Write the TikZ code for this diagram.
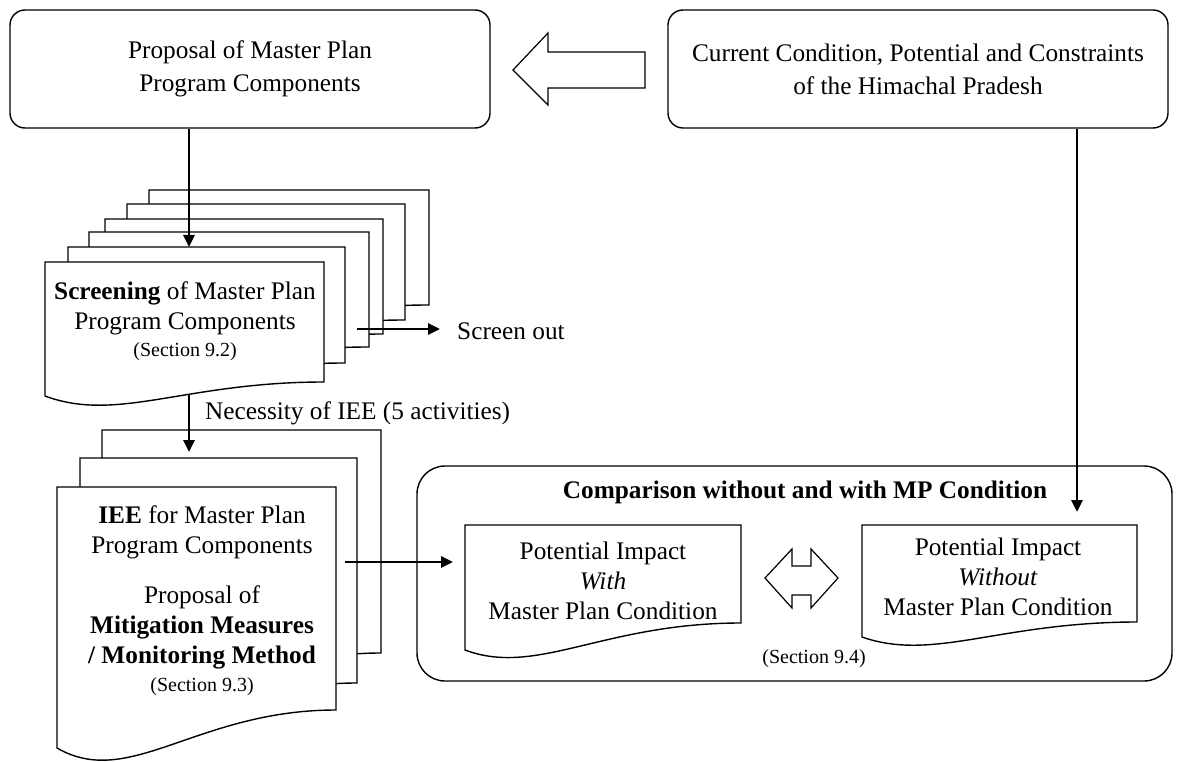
\documentclass[tikz,border=0pt]{standalone}
\usepackage{fontspec}
\setmainfont{Liberation Serif}
\usetikzlibrary{arrows.meta}

\tikzset{
  box/.style={draw, line width=1.4pt, rounded corners=15pt, align=center,
              font=\fontsize{25.3}{33}\selectfont, inner sep=0pt},
  page/.style={draw, fill=white, line width=1.4pt},
  blockarrow/.style={draw, fill=white, line width=1.2pt},
  flow/.style={line width=2.8pt, -{Triangle[length=12pt,width=11pt]}},
  txt/.style={align=center, font=\fontsize{25.3}{30}\selectfont, inner sep=0pt},
  small/.style={font=\fontsize{20}{24}\selectfont, inner sep=0pt},
}

% document page: left, top, right, bottom-right, bottom-left, wave depth
\newcommand\docpage[6]{%
  \draw[page] (#1,#2) -- (#3,#2) -- (#3,#4)
    .. controls ({#1+0.5*(#3-#1)},#4) and ({#1+0.26*(#3-#1)},{#5+#6}) .. (#1,#5) -- cycle;}

\begin{document}
\begin{tikzpicture}[x=1pt,y=-1pt]
\useasboundingbox (0,0) rectangle (1178,762);

% top row
\node[box, minimum width=480pt, minimum height=118pt] (plan) at (250,69)
  {Proposal of Master Plan\\Program Components};
\node[box, minimum width=500pt, minimum height=118pt] (cond) at (918,69)
  {Current Condition, Potential and Constraints\\of the Himachal Pradesh};
\draw[blockarrow] (513,70) -- (548,33) -- (548,52) -- (645,52) -- (645,88)
  -- (548,88) -- (548,105) -- cycle;

% screening stack
\docpage{149}{190}{429}{305}{319}{27}
\docpage{127}{204}{405}{320}{334}{27}
\docpage{105}{219}{383}{334}{348}{27}
\docpage{89}{232}{369}{347}{361}{27}
\docpage{68}{247}{345}{363}{377}{27}
\docpage{45}{262}{324}{382}{396}{27}
\node[txt] (scr) at (185,308) {\textbf{Screening} of Master Plan\\Program Components};
\node[small] (scrsec) at (185,352) {(Section 9.2)};

% IEE stack
\docpage{102}{430}{381}{653}{691}{42}
\docpage{80}{458}{357}{683}{721}{42}
\docpage{57}{487}{336}{710}{748}{42}
\node[txt] (iee) at (202,532) {\textbf{IEE} for Master Plan\\Program Components};
\node[txt] (mit) at (202,627) {Proposal of\\\textbf{Mitigation Measures}\\\textbf{/ Monitoring Method}};
\node[small] (ieesec) at (202,687) {(Section 9.3)};

% comparison panel
\node[draw, line width=1.4pt, rounded corners=28pt, minimum width=755pt,
      minimum height=215pt, inner sep=0pt] (cmp) at (794.5,573.5) {};
\node[txt, font=\fontsize{25.3}{30}\selectfont\bfseries] (cmptitle) at (805,492)
  {Comparison without and with MP Condition};
\docpage{465}{525}{741}{623}{650}{27}
\docpage{862}{525}{1137}{622}{637}{25}
\node[txt] (with) at (603,581) {Potential Impact\\\textit{With}\\Master Plan Condition};
\node[txt] (without) at (998,577) {Potential Impact\\\textit{Without}\\Master Plan Condition};
\draw[blockarrow] (765,578) -- (792,549) -- (792,566) -- (811,566) -- (811,549)
  -- (838,578) -- (811,608) -- (811,595) -- (792,595) -- (792,608) -- cycle;
\node[small] (cmpsec) at (814,659) {(Section 9.4)};

% connectors
\coordinate (scrin) at (189,247);
\coordinate (scrout) at (189,394);
\coordinate (ieein) at (189,452);
\coordinate (outstart) at (357,329);
\coordinate (outend) at (440,329);
\coordinate (ieeout) at (345,562);
\coordinate (within) at (453,562);
\coordinate (condin) at (1077,512);

\draw[flow] (plan.south -| scrin) -- (scrin);
\draw[flow] (scrout) -- (ieein);
\draw[flow] (outstart) -- (outend);
\draw[flow] (ieeout) -- (within);
\draw[flow] (cond.south -| condin) -- (condin);

\node[txt, anchor=west] (outlbl) at (457,331) {Screen out};
\node[txt, anchor=west] (needlbl) at (205,413) {Necessity of IEE (5 activities)};
\end{tikzpicture}
\end{document}
